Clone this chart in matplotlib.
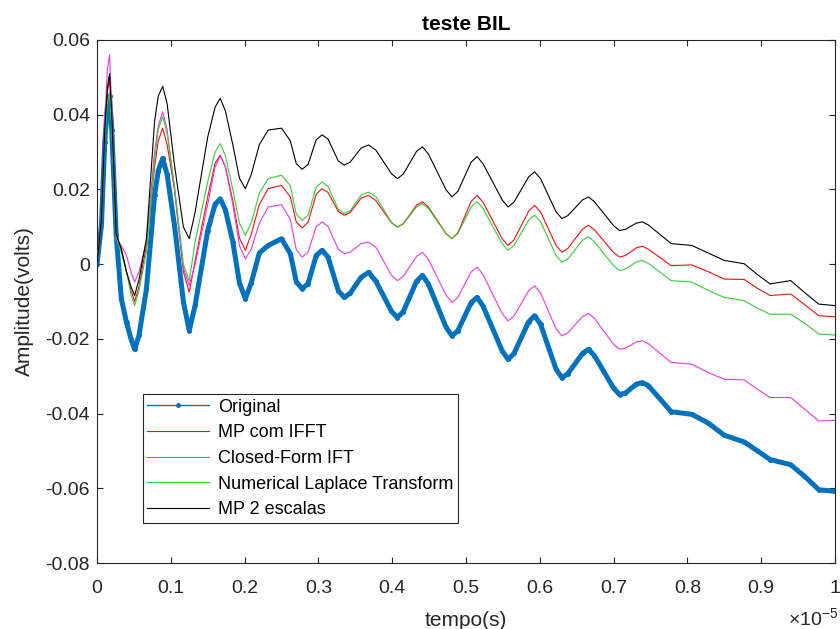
import matplotlib
matplotlib.use("Agg")
import matplotlib.pyplot as plt
from matplotlib.lines import Line2D
from matplotlib.ticker import FuncFormatter, MultipleLocator

plt.rcParams["font.family"] = ["Liberation Sans", "DejaVu Sans"]
plt.rcParams["mathtext.default"] = "regular"

# tempo in units of 1e-5 s
tempo = [0, 0.006, 0.0105, 0.014, 0.017, 0.020, 0.026, 0.033, 0.040, 0.046,
         0.051, 0.057, 0.067, 0.078, 0.083, 0.089, 0.095, 0.105, 0.117, 0.125,
         0.133, 0.150, 0.160, 0.167, 0.174, 0.184, 0.193, 0.201, 0.209, 0.220,
         0.232, 0.250, 0.262, 0.270, 0.278, 0.286, 0.297, 0.305, 0.313, 0.327,
         0.335, 0.343, 0.358, 0.368, 0.378, 0.399, 0.407, 0.415, 0.433, 0.441,
         0.449, 0.473, 0.481, 0.489, 0.507, 0.515, 0.523, 0.549, 0.557, 0.565,
         0.585, 0.593, 0.601, 0.622, 0.630, 0.638, 0.658, 0.666, 0.674, 0.700,
         0.708, 0.716, 0.731, 0.739, 0.747, 0.778, 0.806, 0.828, 0.850, 0.877,
         0.895, 0.912, 0.940, 0.960, 0.978, 1.0]

original = [0, 0.0104, 0.0328, 0.042, 0.045, 0.036, 0.0077, -0.0093, -0.0156, -0.020,
            -0.0228, -0.019, -0.0066, 0.0184, 0.025, 0.0283, 0.024, 0.0104, -0.010, -0.0178,
            -0.011, 0.009, 0.016, 0.0175, 0.0145, 0.006, -0.005, -0.0093, -0.005, 0.003,
            0.005, 0.0068, 0.0028, -0.0047, -0.0066, -0.0052, 0.0023, 0.0037, 0.0019, -0.0071,
            -0.0089, -0.0078, -0.0035, -0.0022, -0.0046, -0.0126, -0.0143, -0.0127, -0.0046, -0.003,
            -0.0053, -0.0169, -0.0192, -0.0178, -0.0103, -0.0089, -0.0112, -0.0232, -0.0255, -0.0239,
            -0.0154, -0.0138, -0.0161, -0.0281, -0.0304, -0.0293, -0.0239, -0.0228, -0.0245, -0.0332,
            -0.0349, -0.0345, -0.0321, -0.0317, -0.0325, -0.0395, -0.0402, -0.0425, -0.0458, -0.0476,
            -0.050, -0.0523, -0.0537, -0.057, -0.0604, -0.0608]

mp_ifft = [0, 0.012, 0.035, 0.046, 0.050, 0.038, 0.008, 0.004, -0.002, -0.007,
           -0.010, -0.006, 0.005, 0.026, 0.033, 0.0364, 0.032, 0.020, -0.002, -0.0075,
           0.001, 0.018, 0.027, 0.0292, 0.026, 0.017, 0.007, 0.0037, 0.008, 0.016,
           0.0202, 0.0211, 0.018, 0.0113, 0.0097, 0.0112, 0.0187, 0.0202, 0.0192, 0.0141,
           0.0131, 0.0138, 0.0177, 0.0184, 0.017, 0.0111, 0.0099, 0.0108, 0.0158, 0.0167,
           0.0153, 0.0082, 0.0068, 0.0084, 0.0168, 0.0184, 0.0166, 0.0068, 0.005, 0.0065,
           0.0142, 0.0157, 0.0140, 0.0050, 0.0032, 0.0042, 0.0094, 0.0104, 0.0092, 0.0031,
           0.0019, 0.0023, 0.0044, 0.0048, 0.004, -0.0004, -0.0002, -0.002, -0.004, -0.0041,
           -0.0065, -0.0084, -0.008, -0.011, -0.0138, -0.0141]

closed_form = [0, 0.013, 0.038, 0.052, 0.056, 0.042, 0.0068, 0.005, 0.0023, -0.002,
               -0.0048, -0.002, 0.006, 0.030, 0.037, 0.0408, 0.036, 0.020, -0.001, -0.0057,
               0.0, 0.016, 0.026, 0.029, 0.026, 0.016, 0.005, 0.0014, 0.004, 0.011,
               0.0153, 0.0159, 0.012, 0.0039, 0.0019, 0.0032, 0.0100, 0.0113, 0.0101, 0.0040,
               0.0028, 0.0032, 0.0055, 0.0059, 0.0045, -0.0030, -0.0044, -0.0033, 0.0021, 0.0032,
               0.0013, -0.0083, -0.0102, -0.0089, -0.0021, -0.0008, -0.0028, -0.0132, -0.0152, -0.0139,
               -0.0071, -0.0058, -0.0077, -0.0173, -0.0192, -0.0184, -0.0140, -0.0132, -0.0145, -0.0215,
               -0.0228, -0.0225, -0.0208, -0.0205, -0.0213, -0.0263, -0.0268, -0.029, -0.0308, -0.031,
               -0.0335, -0.0357, -0.0357, -0.039, -0.042, -0.0418]

numerical_lt = [0, 0.012, 0.034, 0.043, 0.046, 0.036, 0.007, 0.003, -0.002, -0.008,
                -0.0111, -0.007, 0.0033, 0.028, 0.036, 0.0395, 0.035, 0.021, 0.000, -0.0045,
                0.006, 0.022, 0.030, 0.0323, 0.029, 0.020, 0.011, 0.0077, 0.011, 0.019,
                0.0229, 0.0238, 0.021, 0.0134, 0.0117, 0.0131, 0.0206, 0.022, 0.0208, 0.0147,
                0.0135, 0.0143, 0.0185, 0.0193, 0.018, 0.0112, 0.0099, 0.0108, 0.0153, 0.0162,
                0.0149, 0.0081, 0.0068, 0.0082, 0.0153, 0.0167, 0.0149, 0.0055, 0.0037, 0.0050,
                0.0118, 0.0131, 0.0114, 0.0023, 0.0005, 0.0014, 0.0064, 0.0073, 0.0060, -0.0004,
                -0.0017, -0.0013, 0.0006, 0.001, 0.0002, -0.0044, -0.0048, -0.007, -0.0089, -0.0098,
                -0.0118, -0.0134, -0.0134, -0.016, -0.0187, -0.019]

mp_2_escalas = [0, 0.012, 0.036, 0.047, 0.051, 0.040, 0.008, 0.004, -0.0021, -0.006,
                -0.0084, -0.004, 0.0068, 0.0382, 0.045, 0.0476, 0.043, 0.0265, 0.010, 0.0068,
                0.014, 0.034, 0.042, 0.0444, 0.041, 0.032, 0.023, 0.0202, 0.024, 0.032,
                0.0359, 0.0364, 0.033, 0.0269, 0.0254, 0.0267, 0.0333, 0.0346, 0.0335, 0.0276,
                0.0265, 0.0273, 0.0311, 0.0319, 0.0305, 0.0242, 0.0229, 0.0241, 0.0302, 0.0314,
                0.0295, 0.0199, 0.018, 0.0195, 0.0273, 0.0288, 0.0269, 0.0172, 0.0153, 0.0166,
                0.0234, 0.0247, 0.0229, 0.0140, 0.0122, 0.013, 0.0172, 0.018, 0.0167, 0.0103,
                0.009, 0.0093, 0.011, 0.0113, 0.0105, 0.0055, 0.005, 0.003, 0.001, 0.0001,
                -0.0028, -0.0053, -0.0044, -0.0078, -0.0107, -0.0111]

labels = ["Original", "MP com IFFT", "Closed-Form IFT",
          "Numerical Laplace Transform", "MP 2 escalas"]
colors = ["#0072BD", "#EE1111", "#E23BE2", "#3CC83C", "#000000"]

fig = plt.figure(figsize=(8.4, 6.29), dpi=100)
ax = fig.add_axes([97 / 840, 1 - 563 / 629, 738 / 840, 523 / 629])

ax.plot(tempo, original, color=colors[0], lw=3.6, marker=".", markersize=5,
        solid_joinstyle="round", zorder=2)
series = [mp_ifft, closed_form, numerical_lt, mp_2_escalas]
for vals, c in zip(series, colors[1:]):
    ax.plot(tempo, vals, color=c, lw=0.8, solid_joinstyle="round", zorder=3)

ax.set_xlim(0, 1)
ax.set_ylim(-0.08, 0.06)
ax.xaxis.set_major_locator(MultipleLocator(0.1))
ax.yaxis.set_major_locator(MultipleLocator(0.02))
ax.xaxis.set_major_formatter(FuncFormatter(lambda v, p: f"{round(v, 2):g}"))
ax.yaxis.set_major_formatter(FuncFormatter(lambda v, p: f"{round(v, 3):g}"))
ax.tick_params(direction="in", top=True, right=True, length=4.5, width=0.8,
               labelsize=14, colors="#262626")
ax.tick_params(axis="x", pad=12)
ax.tick_params(axis="y", pad=5)
for s in ax.spines.values():
    s.set_color("#262626")
    s.set_linewidth(0.8)

ax.set_title("teste BIL", fontsize=15, fontweight="bold", pad=7)
ax.set_xlabel("tempo(s)", fontsize=15, color="#262626")
ax.set_ylabel("Amplitude(volts)", fontsize=15, color="#262626")
ax.xaxis.set_label_coords(0.5, -0.092)
ax.yaxis.set_label_coords(-0.085, 0.5)
fig.text(838 / 840, 1 - 625 / 629, r"$\times10^{-5}$", ha="right", va="baseline",
         fontsize=14, color="#262626")

handles = [Line2D([], [], color=colors[0], lw=1, marker=".", markersize=5)]
handles += [Line2D([], [], color=c, lw=0.8) for c in colors[1:]]
leg = ax.legend(handles, labels, loc="lower left", bbox_to_anchor=(0.062, 0.0765),
                borderaxespad=0, fontsize=13, handlelength=3.4, handletextpad=0.5,
                labelspacing=0.48, borderpad=0.25, fancybox=False, framealpha=1)
leg.get_frame().set_edgecolor("#262626")
leg.get_frame().set_linewidth(0.8)

fig.savefig("out.png", dpi=100)
